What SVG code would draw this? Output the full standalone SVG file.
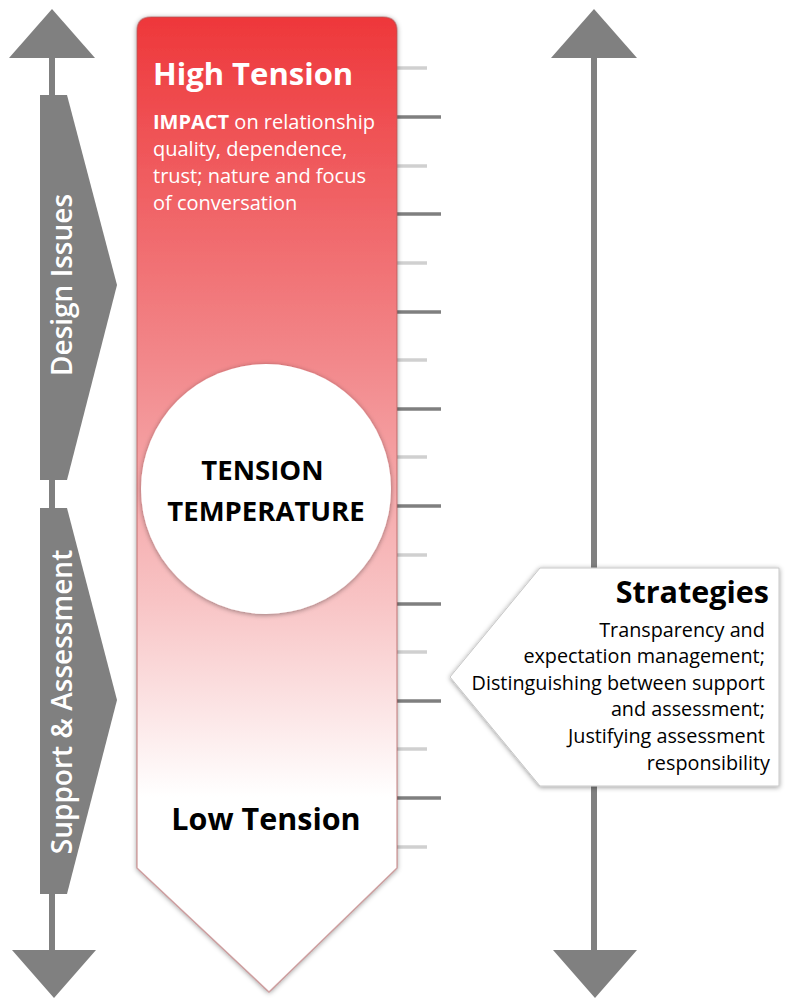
<svg xmlns="http://www.w3.org/2000/svg" width="800" height="1008" viewBox="0 0 800 1008">
<defs>
<linearGradient id="therm" gradientUnits="userSpaceOnUse" x1="0" y1="17" x2="0" y2="992">
<stop offset="0" stop-color="#EE373A"/>
<stop offset="0.35" stop-color="#F2878A"/>
<stop offset="0.6" stop-color="#F8C4C5"/>
<stop offset="0.8" stop-color="#FFFFFF"/>
<stop offset="1" stop-color="#FFFFFF"/>
</linearGradient>
<filter id="shadow" x="-10%" y="-10%" width="120%" height="120%">
<feGaussianBlur in="SourceAlpha" stdDeviation="2.5"/>
<feOffset dx="0" dy="1" result="b"/>
<feFlood flood-color="#000" flood-opacity="0.4"/>
<feComposite in2="b" operator="in"/>
<feMerge><feMergeNode/><feMergeNode in="SourceGraphic"/></feMerge>
</filter>
</defs>
<style>
.gray{fill:#808080}
.axis{stroke:#808080;stroke-width:6;fill:none}
.tl{stroke:#7F7F7F;stroke-width:3.5}
.ts{stroke:#D0D0D0;stroke-width:3.5}
text{font-family:"Open Sans","Liberation Sans",sans-serif}
.w{fill:#fff}
.b{fill:#000}
</style>
<rect width="800" height="1008" fill="#fff"/>

<g id="connectors">
<line class="axis" x1="52" y1="55" x2="52" y2="953"/>
<polygon class="gray" points="52,9 95,58 9,58"/>
<polygon class="gray" points="12,950 96,950 54,998"/>
<line class="axis" x1="594" y1="55" x2="594" y2="953"/>
<polygon class="gray" points="594,9 637,58 551,58"/>
<polygon class="gray" points="553,950 637,950 595,998"/>
</g>

<g id="ticks">
<line class="ts" x1="397" y1="68" x2="427" y2="68"/>
<line class="tl" x1="397" y1="117" x2="441" y2="117"/>
<line class="ts" x1="397" y1="166" x2="427" y2="166"/>
<line class="tl" x1="397" y1="214" x2="441" y2="214"/>
<line class="ts" x1="397" y1="263" x2="427" y2="263"/>
<line class="tl" x1="397" y1="312" x2="441" y2="312"/>
<line class="ts" x1="397" y1="360" x2="427" y2="360"/>
<line class="tl" x1="397" y1="409" x2="441" y2="409"/>
<line class="ts" x1="397" y1="457" x2="427" y2="457"/>
<line class="tl" x1="397" y1="506" x2="441" y2="506"/>
<line class="ts" x1="397" y1="555" x2="427" y2="555"/>
<line class="tl" x1="397" y1="604" x2="441" y2="604"/>
<line class="ts" x1="397" y1="652" x2="427" y2="652"/>
<line class="tl" x1="397" y1="701" x2="441" y2="701"/>
<line class="ts" x1="397" y1="749" x2="427" y2="749"/>
<line class="tl" x1="397" y1="798" x2="441" y2="798"/>
<line class="ts" x1="397" y1="847" x2="427" y2="847"/>
</g>

<g id="design-issues">
<polygon class="gray" points="40,95 67,95 117,285 67,480 40,480"/>
<text class="w" transform="translate(72,285) rotate(-90)" text-anchor="middle" font-size="28" font-weight="600">Design Issues</text>
</g>

<g id="support-assessment">
<polygon class="gray" points="40,508 67,508 117,700 67,894 40,894"/>
<text class="w" transform="translate(72,702) rotate(-90)" text-anchor="middle" font-size="28" font-weight="600">Support &amp; Assessment</text>
</g>

<g id="thermometer">
<path d="M151,17 H383 Q397,17 397,31 V868 L269,992 L137,868 V31 Q137,17 151,17 Z" fill="url(#therm)" stroke="#B0575A" stroke-opacity="0.5" stroke-width="1.5" filter="url(#shadow)"/>
<text class="w" x="153" y="85" font-size="31" font-weight="700">High Tension</text>
<text class="w" font-size="20">
<tspan x="153" y="129"><tspan font-weight="700">IMPACT</tspan> on relationship</tspan>
<tspan x="153" y="156">quality, dependence,</tspan>
<tspan x="153" y="183">trust; nature and focus</tspan>
<tspan x="153" y="210">of conversation</tspan>
</text>
<text class="b" x="266" y="830" text-anchor="middle" font-size="30.5" font-weight="700">Low Tension</text>
</g>

<g id="tension-temperature">
<circle cx="266" cy="489" r="125" fill="#fff" filter="url(#shadow)"/>
<text class="b" text-anchor="middle" font-size="27.5" font-weight="700">
<tspan x="266" y="480">TENSION</tspan>
<tspan x="266" y="521">TEMPERATURE</tspan>
</text>
</g>

<g id="strategies">
<polygon points="450,677 540,568 779,568 779,786 540,786" fill="#fff" stroke="#C8C8C8" stroke-width="1" filter="url(#shadow)"/>
<text class="b" x="769" y="603" text-anchor="end" font-size="30.5" font-weight="700">Strategies</text>
<text class="b" text-anchor="end" font-size="19.8">
<tspan x="770" y="637">Transparency and</tspan>
<tspan x="770" y="663">expectation management;</tspan>
<tspan x="770" y="690">Distinguishing between support</tspan>
<tspan x="770" y="716">and assessment;</tspan>
<tspan x="770" y="743">Justifying assessment</tspan>
<tspan x="770" y="770">responsibility</tspan>
</text>
</g>
</svg>
